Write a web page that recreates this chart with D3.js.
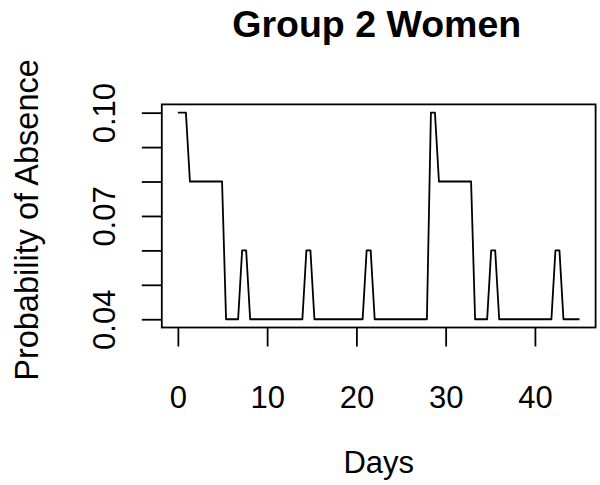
<!DOCTYPE html>
<html>
<head>
<meta charset="utf-8">
<script src="https://cdn.jsdelivr.net/npm/d3@7"></script>
<style>
  body { margin: 0; background: #fff; }
  svg { font-family: "Liberation Sans", Arial, Helvetica, sans-serif; }
</style>
</head>
<body>
<svg class="lineplot" width="600" height="485"></svg>
<script>
// vertices of the plotted line (days, probability of absence)
let days = [0, 0.9, 1.35, 4.95, 5.4, 6.75, 7.2, 7.65, 8.1, 13.95, 14.4, 14.85, 15.3,
  20.7, 21.15, 21.6, 22.05, 27.9, 28.35, 28.8, 29.25, 32.85, 33.3, 34.65, 35.1, 35.55,
  36.0, 41.85, 42.3, 42.75, 43.2, 45];
let probs = [0.10, 0.10, 0.08, 0.08, 0.04, 0.04, 0.06, 0.06, 0.04, 0.04, 0.06, 0.06, 0.04,
  0.04, 0.06, 0.06, 0.04, 0.04, 0.10, 0.10, 0.08, 0.08, 0.04, 0.04, 0.06, 0.06,
  0.04, 0.04, 0.06, 0.06, 0.04, 0.04];
let xTicks = [0, 10, 20, 30, 40];
let yTicks = [0.04, 0.05, 0.06, 0.07, 0.08, 0.09, 0.10];
let yLabels = ["0.04", "0.07", "0.10"];

let svg = d3.select("body").select(".lineplot");
let box = {left: 161.8, right: 595.6, top: 104.4, bottom: 327.5};

// R style 4% padding on each side
let xExt = d3.extent(days), yExt = d3.extent(probs);
let xPad = (xExt[1] - xExt[0]) * 0.04, yPad = (yExt[1] - yExt[0]) * 0.04;

let x = d3.scaleLinear()
  .domain([xExt[0] - xPad, xExt[1] + xPad])
  .range([box.left, box.right]);
let y = d3.scaleLinear()
  .domain([yExt[0] - yPad, yExt[1] + yPad])
  .range([box.bottom, box.top]);

// line
let line = d3.line().x((d, i) => x(days[i])).y(d => y(d));
svg.append("path")
  .datum(probs)
  .attr("d", line)
  .attr("fill", "none")
  .attr("stroke", "#000")
  .attr("stroke-width", 1.8)
  .attr("stroke-linejoin", "round");

// axes
let xAxis = d3.axisBottom(x).tickValues(xTicks).tickSize(19).tickSizeOuter(0);
let xGroup = svg.append("g").attr("transform", translate(0, box.bottom)).call(xAxis);
xGroup.select(".domain").remove();
xGroup.selectAll("line").attr("stroke-width", 1.8);
xGroup.selectAll("text")
  .attr("y", 80.5).attr("dy", null)
  .attr("font-size", 31).attr("font-family", null).attr("fill", "#000");

let yAxis = d3.axisLeft(y).tickValues(yTicks).tickSize(20).tickSizeOuter(0)
  .tickFormat(d => {
    let s = d3.format(".2f")(d);
    return yLabels.includes(s) ? s : "";
  });
let yGroup = svg.append("g").attr("transform", translate(box.left, 0)).call(yAxis);
yGroup.select(".domain").remove();
yGroup.selectAll("line").attr("stroke-width", 1.8);
yGroup.selectAll("text")
  .attr("x", 0).attr("dy", null)
  .attr("transform", "translate(-47,0) rotate(-90)")
  .attr("text-anchor", "middle")
  .attr("font-size", 31).attr("font-family", null).attr("fill", "#000");

// box
svg.append("rect")
  .attr("x", box.left).attr("y", box.top)
  .attr("width", box.right - box.left).attr("height", box.bottom - box.top)
  .attr("fill", "none").attr("stroke", "#000").attr("stroke-width", 1.8);

// titles
let midX = (box.left + box.right) / 2;
svg.append("text")
  .attr("x", midX - 2).attr("y", 37)
  .attr("text-anchor", "middle")
  .attr("font-size", 37.5).attr("font-weight", "bold")
  .text("Group 2 Women");
svg.append("text")
  .attr("x", midX).attr("y", 473)
  .attr("text-anchor", "middle")
  .attr("font-size", 31)
  .text("Days");
svg.append("text")
  .attr("transform", translate(38, 220) + " rotate(-90)")
  .attr("text-anchor", "middle")
  .attr("font-size", 32.5)
  .text("Probability of Absence");

function translate(a, b) {
  return "translate(" + a + "," + b + ")";
}
</script>
</body>
</html>
